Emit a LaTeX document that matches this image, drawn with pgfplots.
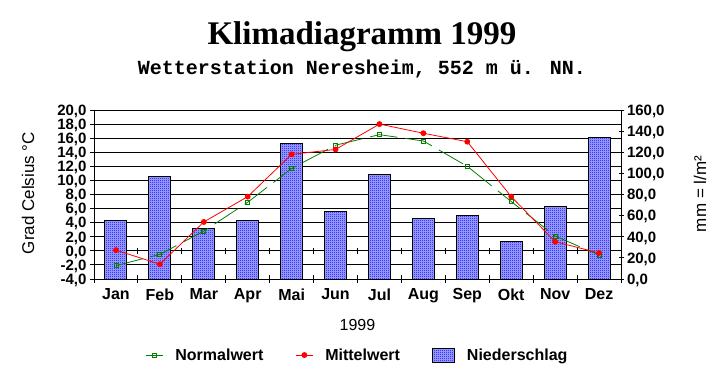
\documentclass[border=0pt]{standalone}
\usepackage{fontspec}
\setmainfont{Liberation Sans}
\newfontfamily\timesfont{Liberation Serif}
\newfontfamily\courierfont{Liberation Mono}
\usepackage{pgfplots}
\pgfplotsset{compat=1.18}
\usetikzlibrary{patterns}
\definecolor{dgreen}{RGB}{0,128,0}
\definecolor{barbg}{RGB}{170,170,255}
\pgfdeclarepatternformonly{bdots}{\pgfqpoint{0pt}{0pt}}{\pgfqpoint{2pt}{2pt}}{\pgfqpoint{2pt}{2pt}}{%
  \pgfpathrectangle{\pgfqpoint{0pt}{0pt}}{\pgfqpoint{1pt}{1pt}}%
  \pgfpathrectangle{\pgfqpoint{1pt}{1pt}}{\pgfqpoint{1pt}{1pt}}%
  \pgfusepath{fill}}
\begin{document}
\begin{tikzpicture}[x=1pt,y=1pt]
\path[use as bounding box] (0,0) rectangle (725,384);
\pgfplotsset{
  base/.style={scale only axis, width=527pt, height=169pt, at={(94pt,105pt)}, anchor=south west,
    xmin=-0.5, xmax=11.5, clip=false,
    /pgf/number format/assume math mode=true,
    ticklabel style={font=\fontsize{16}{18}\selectfont\bfseries},
    yticklabel style={font=\fontsize{15}{16}\selectfont\bfseries, inner ysep=0pt, text height=10.5pt, text depth=0pt,
      /pgf/number format/.cd, fixed, fixed zerofill, precision=1, use comma},
  },
}
% axis 1: temperature frame and grid
\begin{axis}[base, ymin=-4, ymax=20, ytick={-4,-2,...,20},
  axis y line*=left, axis x line*=bottom,
  axis line style={line width=1pt,-},
  ymajorgrids, grid style={black, line width=1pt},
  xtick={0,...,11}, xticklabels={Jan,Feb,Mar,Apr,Mai,Jun,Jul,Aug,Sep,Okt,Nov,Dez},
  x tick style={draw=none}, major x tick style={draw=none},
  y tick style={black, line width=1pt}, tick align=outside, major tick length=4pt,
  xticklabel style={yshift=-2pt},
]
\pgfplotsinvokeforeach{-0.5,0.5,...,11.5}{
  \draw[line width=1pt] (axis cs:#1,0) ++(0pt,-3pt) -- ++(0pt,6pt);
  \draw[line width=1pt] (axis cs:#1,-4) ++(0pt,-4pt) -- ++(0pt,8pt);
}
\end{axis}
% axis 2: precipitation bars
\begin{axis}[base, ymin=0, ymax=160, ytick={0,20,...,160},
  axis y line*=right, axis x line=none,
  axis line style={line width=1pt,-},
  y tick style={black, line width=1pt}, tick align=center, major tick length=5pt,
]
\addplot[ybar, bar width=0.5, draw=black, line width=1pt, fill=barbg,
  postaction={pattern=bdots, pattern color=blue}]
  coordinates {(0,55) (1,97.4) (2,47.4) (3,55.7) (4,128.7) (5,64.2)
               (6,99.3) (7,56.9) (8,60.4) (9,35.7) (10,68.9) (11,134.4)};
\end{axis}
% axis 3: temperature lines
\begin{axis}[base, ymin=-4, ymax=20, hide axis,
  legend style={at={(0.5,-0.45)}, anchor=center, draw=none, fill=none,
    font=\fontsize{16}{18}\selectfont\bfseries},
  legend columns=3,
  /tikz/every odd column/.append style={column sep=10pt},
  /tikz/every even column/.append style={column sep=30pt},
]
\addplot[dgreen, line width=0.8pt, dash pattern=on 28pt off 8pt, mark=square, mark size=2pt, mark options={solid}]
  coordinates {(0,-2.1) (1,-0.5) (2,2.8) (3,6.9) (4,11.7) (5,15.0)
               (6,16.5) (7,15.6) (8,12.0) (9,7.0) (10,2.1) (11,-0.6)};
\addlegendentry{Normalwert}
\addplot[red, line width=0.8pt, mark=*, mark size=2.5pt]
  coordinates {(0,0.1) (1,-1.9) (2,4.1) (3,7.7) (4,13.7) (5,14.4)
               (6,18.0) (7,16.7) (8,15.5) (9,7.7) (10,1.3) (11,-0.3)};
\addlegendentry{Mittelwert}
\addlegendimage{legend image code/.code={
  \draw[fill=barbg, draw=black, line width=1pt, postaction={pattern=bdots, pattern color=blue}]
    (0pt,-7pt) rectangle (22pt,7pt);}}
\addlegendentry{Niederschlag}
\end{axis}
\node[font=\timesfont\bfseries\fontsize{33}{36}\selectfont, anchor=base] at (362,340) {Klimadiagramm 1999};
\node[font=\courierfont\bfseries\fontsize{20}{22}\selectfont, anchor=base] at (362,310) {Wetterstation Neresheim, 552 m ü. NN.};
\node[font=\fontsize{17}{19}\selectfont, rotate=90] at (28,191) {Grad Celsius °C};
\node[font=\fontsize{17}{19}\selectfont, rotate=90] at (700,190) {mm = l/m²};
\node[font=\fontsize{16}{18}\selectfont] at (357.5,59) {1999};
\end{tikzpicture}
\end{document}
